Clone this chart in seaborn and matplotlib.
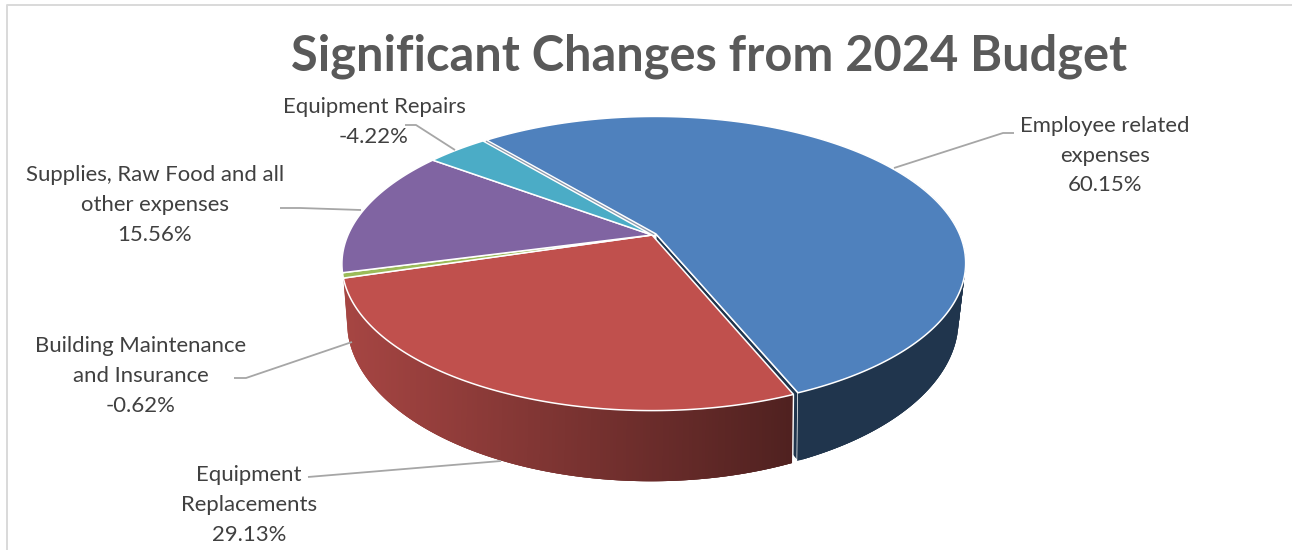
import numpy as np
import matplotlib
matplotlib.use("Agg")
import matplotlib.pyplot as plt
from matplotlib.patches import Polygon
import seaborn as sns

# Budget changes by category, in percent
categories = [
    "Employee related\nexpenses",
    "Equipment\nReplacements",
    "Building Maintenance\nand Insurance",
    "Supplies, Raw Food and all\nother expenses",
    "Equipment Repairs",
]
changes = [60.15, 29.13, -0.62, 15.56, -4.22]
explode = [0.015, 0, 0, 0, 0]
slice_colors = ["#4F81BD", "#C0504D", "#9BBB59", "#8064A2", "#4BACC6"]
title = "Significant Changes from 2024 Budget"

# Label centres and leader-line routes, in figure pixels
label_xy = [(1105, 155.5), (249, 505), (141, 376), (155, 205), (374, 122)]
leaders = [
    [(1014, 133), (1003, 133), (894, 168)],
    [(308, 477), (320, 476), (501, 461)],
    [(234, 378), (246, 378), (352, 342)],
    [(280, 208), (300, 208), (361, 210)],
    [(405, 125), (416, 125), (455, 150)],
]

sns.set_theme(style="white")
plt.rcParams["font.family"] = ["Lato", "DejaVu Sans"]
palette = sns.color_palette(slice_colors)

W, H = 1292, 550
fig = plt.figure(figsize=(W / 100, H / 100), dpi=100, facecolor="white")
ax = fig.add_axes([0, 0, 1, 1])
ax.set_xlim(0, W)
ax.set_ylim(H, 0)
ax.axis("off")

# The pie layout supplies each slice's angles and explode offset
layout_ax = fig.add_axes([0, 0, 0.1, 0.1])
wedges, _ = layout_ax.pie(np.abs(changes), explode=explode, startangle=129.8,
                          counterclock=False, radius=1)
layout_ax.set_visible(False)


def project(u, v, x0, y0, rx, ry, k):
    """Perspective view of a disc lying flat, seen from the front and above."""
    u, v = np.asarray(u, float), np.asarray(v, float)
    w = 1 + k * v
    return np.column_stack([x0 + rx * u / w, y0 - ry * v / w])


def top_face(u, v):
    return project(u, v, 652, 235, 304, 141, 0.197)


def bottom_face(u, v):
    return project(u, v, 651, 286, 296.6, 152.3, 0.22)


def shade(color, x):
    # Side walls darken from left to right
    return tuple(np.array(color) * np.interp(x, [350, 795], [0.86, 0.41]))


# Cut face of the pulled-out slice, visible through the gap beside it
lead = wedges[0]
cx, cy = lead.center
end_u, end_v = cx + np.cos(np.radians(lead.theta1)), cy + np.sin(np.radians(lead.theta1))
cut = np.vstack([
    top_face([cx, end_u], [cy, end_v]),
    bottom_face([end_u, cx], [end_v, cy]),
])
ax.add_patch(Polygon(cut, closed=True, facecolor=shade(palette[0], 900),
                     edgecolor="white", linewidth=1.0, zorder=2))

# Side walls, split into narrow overlapping strips to carry the gradient
for wedge, color in zip(wedges, palette):
    cx, cy = wedge.center
    angles = np.radians(np.append(np.arange(wedge.theta1, wedge.theta2, 0.5), wedge.theta2))
    keep = (np.sin(angles) < 0.45) & ((np.cos(angles) > 0) | (np.sin(angles) < -0.28))
    angles = angles[keep]
    if len(angles) < 2:
        continue
    us, vs = cx + np.cos(angles), cy + np.sin(angles)
    upper, lower = top_face(us, vs), bottom_face(us, vs)
    # Strips run from the dark end so that each one hides the seam of its neighbour
    for i in range(len(angles) - 1):
        j = min(i + 3, len(angles) - 1)
        quad = [upper[i], upper[j], lower[j], lower[i]]
        ax.add_patch(Polygon(quad, closed=True, facecolor=shade(color, upper[i, 0]),
                             edgecolor="none", linewidth=0, zorder=3))
    if wedge is wedges[1]:
        ax.plot([upper[-1, 0], lower[-1, 0]], [upper[-1, 1], lower[-1, 1]],
                color="white", lw=1.0, zorder=3.5)

# Top faces of the slices
for wedge, color in zip(wedges, palette):
    cx, cy = wedge.center
    angles = np.radians(np.linspace(wedge.theta1, wedge.theta2, 240))
    rim = top_face(cx + np.cos(angles), cy + np.sin(angles))
    outline = np.vstack([top_face([cx], [cy]), rim])
    ax.add_patch(Polygon(outline, closed=True, facecolor=color, edgecolor="white",
                         linewidth=1.1, joinstyle="miter", zorder=4))

# Faint seam inside the gap at the far edge of the pulled-out slice
cx, cy = lead.center
far = np.radians(lead.theta2)
seam = top_face([cx / 2, cx / 2 + np.cos(far) * 0.99], [cy / 2, cy / 2 + np.sin(far) * 0.99])
ax.plot(seam[:, 0], seam[:, 1], color="#8E9AAC", lw=0.9, zorder=4.5)

# Leader lines and data labels
for route, name, value, (lx, ly) in zip(leaders, categories, changes, label_xy):
    xs, ys = zip(*route)
    ax.plot(xs, ys, color="#A6A6A6", lw=1.3, zorder=5, solid_capstyle="butt")
    ax.text(lx, ly, f"{name}\n{value:.2f}%", ha="center", va="center",
            multialignment="center", fontsize=15.9, color="#404040",
            linespacing=1.6, zorder=6)

ax.text(709, 56, title, ha="center", va="center", fontsize=35.1,
        fontweight="bold", color="#595959", zorder=6)

# Light frame along the top and left edges
ax.plot([W, 6.5, 6.5], [4.5, 4.5, H], color="#D9D9D9", lw=1.4, zorder=1)

fig.savefig("out.png", dpi=100, facecolor="white")
